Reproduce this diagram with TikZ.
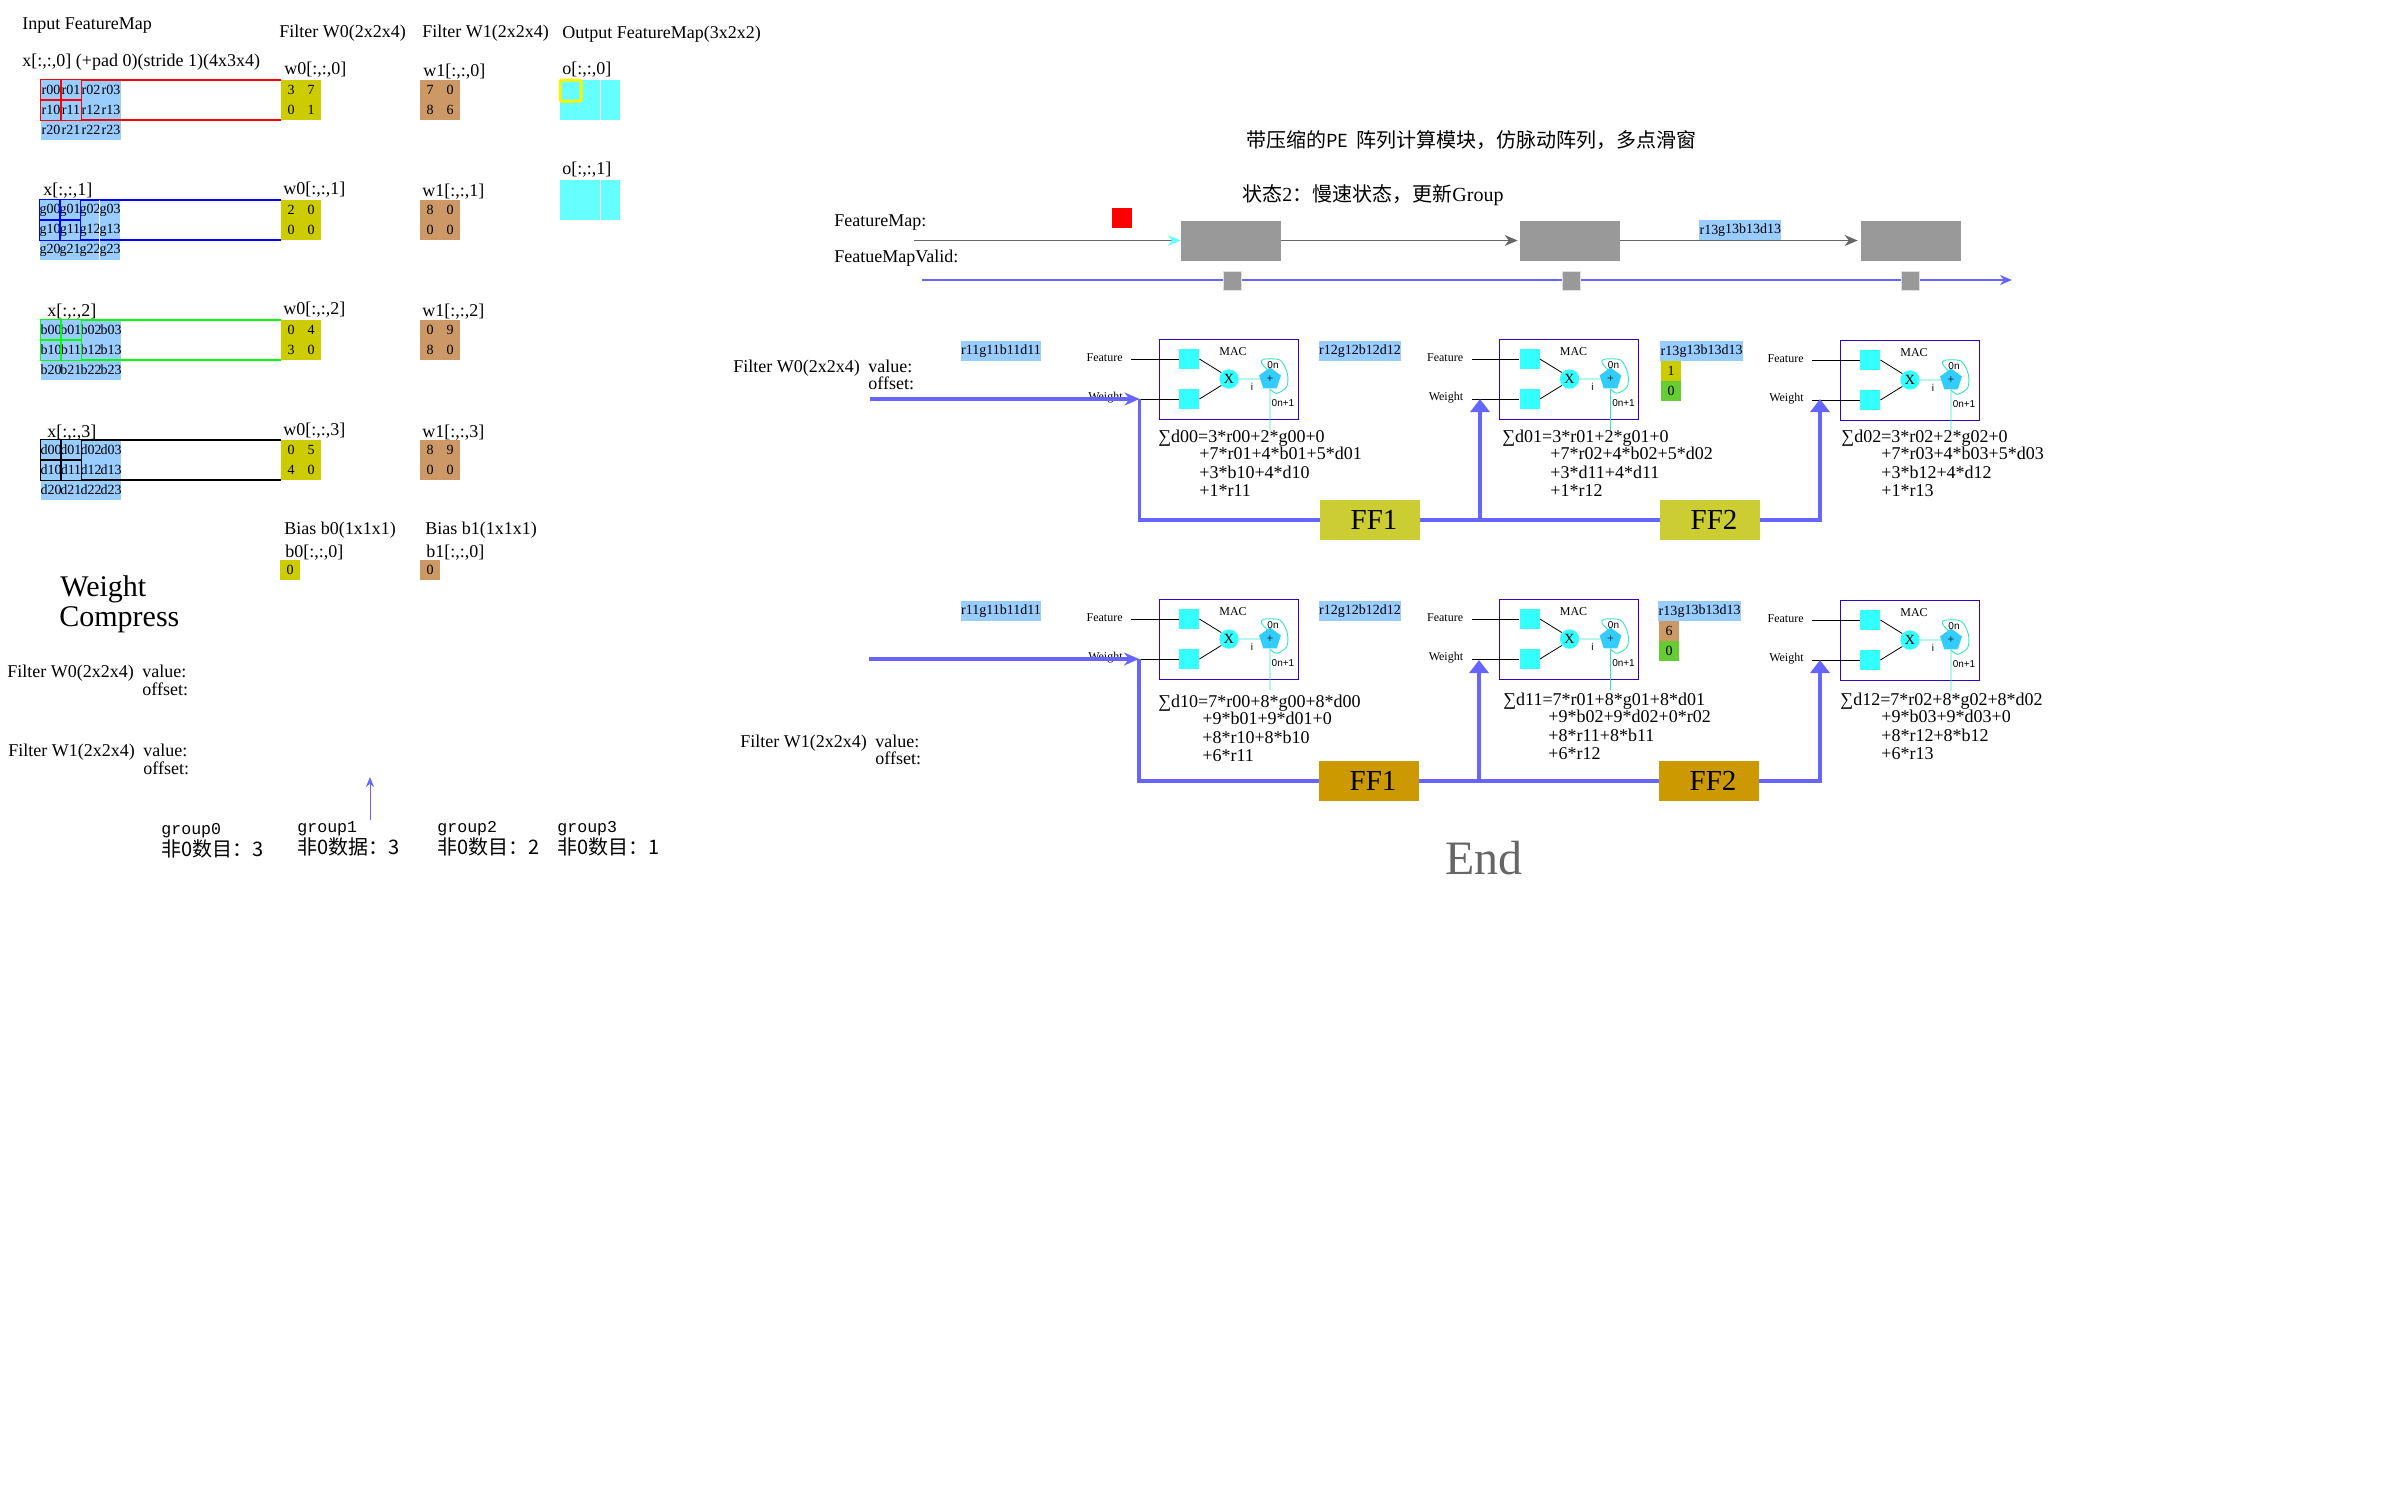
\documentclass[tikz,border=0pt]{standalone}
\usepackage{fontspec}
\setmainfont{Liberation Serif}
\setsansfont{Liberation Sans}
\setmonofont{Liberation Mono}
\newfontfamily\cjk{Noto Sans CJK SC}
\usetikzlibrary{shapes.geometric, arrows.meta, positioning}
\definecolor{cellblue}{HTML}{99CCFF}
\definecolor{filtyellow}{HTML}{CCCC00}
\definecolor{filtbrown}{HTML}{CC9966}
\definecolor{outcyan}{HTML}{66FFFF}
\definecolor{maccyan}{HTML}{33FFFF}
\definecolor{penta}{HTML}{33CCFF}
\definecolor{loopteal}{HTML}{33E6C0}
\definecolor{linkblue}{HTML}{6666FF}
\definecolor{macblue}{HTML}{3300CC}
\definecolor{boxgray}{HTML}{999999}
\definecolor{linegray}{HTML}{666666}
\definecolor{ffyellow}{HTML}{CCCC33}
\definecolor{ffbrown}{HTML}{CC9900}
\definecolor{zerogreen}{HTML}{66CC33}
\newcommand{\cellbox}[1]{\makebox[10pt]{#1}}
\tikzset{
	lab/.style={anchor=west, inner sep=0pt, yshift=-1pt, font=\fontsize{9}{9.1}\selectfont, align=left},
	biglab/.style={anchor=west, inner sep=0pt, yshift=-1.5pt, font=\fontsize{15}{15}\selectfont},
	cjklab/.style={anchor=west, inner sep=0pt, font=\fontsize{10}{10}\selectfont},
	monolab/.style={anchor=west, inner sep=0pt, font=\fontsize{8.3}{8.3}\ttfamily},
	cell/.style={rectangle, inner sep=0pt, minimum width=10pt, minimum height=10pt, font=\fontsize{7}{7}\selectfont},
	fblue/.style={cell, fill=cellblue},
	fyel/.style={cell, fill=filtyellow},
	fbrown/.style={cell, fill=filtbrown},
	fgreen/.style={cell, fill=zerogreen},
	fcyan/.style={cell, fill=outcyan, minimum height=20pt},
	graybox/.style={rectangle, fill=boxgray, minimum width=50pt, minimum height=20pt, inner sep=0pt},
	tick/.style={rectangle, fill=boxgray, draw=black!12, line width=.4pt, minimum width=9pt, minimum height=9.5pt, inner sep=0pt},
	ffbox/.style={rectangle, minimum width=50pt, minimum height=20pt, inner sep=0pt, font=\fontsize{14.5}{14.5}\selectfont},
	macbox/.style={rectangle, draw=macblue, line width=.45pt, minimum width=69.5pt, minimum height=40pt, inner sep=0pt},
	macsq/.style={rectangle, fill=maccyan, minimum width=10pt, minimum height=10pt, inner sep=0pt},
	macmul/.style={circle, fill=maccyan, minimum size=9.7pt, inner sep=0pt, font=\fontsize{7}{7}\selectfont},
	macadd/.style={regular polygon, regular polygon sides=5, fill=penta, minimum size=11.5pt, inner sep=0pt, font=\fontsize{6}{6}\selectfont},
	mactxt/.style={inner sep=0pt, font=\fontsize{6}{6}\selectfont},
	macsans/.style={inner sep=0pt, font=\fontsize{5}{5}\sffamily},
	macline/.style={line width=.4pt, black},
	loopline/.style={line width=.45pt, loopteal},
	railline/.style={line width=1pt},
	gridline/.style={line width=.6pt},
	grayarrow/.style={line width=.6pt, linegray, -{Stealth[length=6.5pt,width=5.5pt]}},
	validarrow/.style={line width=.6pt, linkblue, -{Stealth[length=6pt,width=5pt]}},
	thickline/.style={line width=1.6pt, linkblue},
	thickarrow/.style={thickline, -{Stealth[length=7.5pt,width=6.5pt]}},
	uparrow/.style={thickline, -{Triangle[length=6.5pt,width=9.5pt]}},
	thinarrow/.style={line width=.4pt, linkblue, -{Stealth[length=5pt,width=4pt]}}
}

\begin{document}
\begin{tikzpicture}[x=0.5pt, y=-0.5pt]
	\useasboundingbox (0,0) rectangle (2400,1500);
	
	% Headings
	\node (inhead) [lab] at (22,24) {Input FeatureMap};
	\node (xhead) [lab] at (22,60) {x[:,:,0] (+pad 0)(stride 1)(4x3x4)};
	\node (w0head) [lab] at (279,31) {Filter W0(2x2x4)};
	\node (w1head) [lab] at (422,31) {Filter W1(2x2x4)};
	\node (ohead) [lab] at (562,32) {Output FeatureMap(3x2x2)};
	
	\node (xlab1) [lab] at (43,189) {x[:,:,1]};
	\node (xlab2) [lab] at (47,310) {x[:,:,2]};
	\node (xlab3) [lab] at (47,431) {x[:,:,3]};
	\node (w0lab0) [lab] at (284,68) {w0[:,:,0]};
	\node (w0lab1) [lab] at (283,188) {w0[:,:,1]};
	\node (w0lab2) [lab] at (283,308) {w0[:,:,2]};
	\node (w0lab3) [lab] at (283,429) {w0[:,:,3]};
	\node (w1lab0) [lab] at (423,70) {w1[:,:,0]};
	\node (w1lab1) [lab] at (422,190) {w1[:,:,1]};
	\node (w1lab2) [lab] at (422,310) {w1[:,:,2]};
	\node (w1lab3) [lab] at (422,431) {w1[:,:,3]};
	\node (olab0) [lab] at (562,68) {o[:,:,0]};
	\node (olab1) [lab] at (562,168) {o[:,:,1]};
	
	% Filters
	\foreach \k/\fy/\va/\vb/\vc/\vd/\ve/\vf/\vg/\vh in {0/80/3/7/0/1/7/0/8/6, 1/200/2/0/0/0/8/0/0/0, 2/320/0/4/3/0/0/9/8/0, 3/440/0/5/4/0/8/9/0/0} {
		\node (wa\k00) [fyel] at (291,\fy+10) {\va};
		\node (wa\k01) [fyel] at (311,\fy+10) {\vb};
		\node (wa\k10) [fyel] at (291,\fy+30) {\vc};
		\node (wa\k11) [fyel] at (311,\fy+30) {\vd};
		\node (wb\k00) [fbrown] at (430,\fy+10) {\ve};
		\node (wb\k01) [fbrown] at (450,\fy+10) {\vf};
		\node (wb\k10) [fbrown] at (430,\fy+30) {\vg};
		\node (wb\k11) [fbrown] at (450,\fy+30) {\vh};
	}
	
	% Feature map grids
	\foreach \c/\n/\gx/\gy/\col in {r/0/41/80/red, g/1/40/200/blue, b/2/41/320/green, d/3/41/440/black} {
		\foreach \i in {0,1,2} {
			\foreach \j in {0,1,2,3} {
				\node (\c\i\j) [fblue] at (\gx+\j*20+10,\gy+\i*20+10) {\cellbox{\c\i\j}};
			}
		}
		\foreach \k in {00,01,10,11} {
			\draw [gridline, \col] (\c\k.north west) rectangle (\c\k.south east);
		}
		\draw [railline, \col] (\c02.north west) -- (wa\n00.north west);
		\draw [railline, \col] (\c12.south west) -- (wa\n10.south west);
	}
	\draw [white, line width=.4pt] (g03.north west) -- (g23.south west);
	
	% Output maps
	\node (o00) [fcyan, minimum width=20pt] at (580,100) {};
	\node (o01) [fcyan, minimum width=9.5pt] at (610.5,100) {};
	\node (o10) [fcyan, minimum width=20pt] at (580,200) {};
	\node (o11) [fcyan, minimum width=9.5pt] at (610.5,200) {};
	\node (oslide) [rectangle, draw=yellow, line width=1.5pt, rounded corners=.6pt, minimum width=10.5pt, minimum height=10.5pt, inner sep=0pt] at (570.5,90.5) {};
	
	% Bias
	\node (bias0) [lab] at (284,528) {Bias b0(1x1x1)};
	\node (bias1) [lab] at (425,528) {Bias b1(1x1x1)};
	\node (blab0) [lab] at (285,551) {b0[:,:,0]};
	\node (blab1) [lab] at (426,551) {b1[:,:,0]};
	\node (bcell0) [fyel] at (290,570) {0};
	\node (bcell1) [fbrown] at (430,570) {0};
	
	% Compress
	\node (wgt) [biglab] at (60,586) {Weight};
	\node (cmp) [biglab] at (59,617) {Compress};
	\node (cw0) [lab] at (7,671) {Filter W0(2x2x4)};
	\node (cw0v) [lab] at (142,669) {value:};
	\node (cw0o) [lab] at (142,687) {offset:};
	\node (cw1) [lab] at (8,750) {Filter W1(2x2x4)};
	\node (cw1v) [lab] at (143,748) {value:};
	\node (cw1o) [lab] at (143,766) {offset:};
	
	\node (grp0) [monolab] at (161,831) {group0};
	\node (cnt0) [cjklab] at (161,849) {\cjk 非0数目：3};
	\node (grp1) [monolab] at (297,829) {group1};
	\node (cnt1) [cjklab] at (297,847) {\cjk 非0数据：3};
	\node (grp2) [monolab] at (437,829) {group2};
	\node (cnt2) [cjklab] at (437,847) {\cjk 非0数目：2};
	\node (grp3) [monolab] at (557,829) {group3};
	\node (cnt3) [cjklab] at (557,847) {\cjk 非0数目：1};
	\coordinate (grpfrom) at (370,820);
	\coordinate (grpto) at (370,777);
	\draw [thinarrow] (grpfrom) -- (grpto);
	
	% Titles
	\node (title) [cjklab] at (1246,140) {\cjk 带压缩的{\fontsize{9}{9}\selectfont PE}\hspace{4pt}阵列计算模块，仿脉动阵列，多点滑窗};
	\node (state) [cjklab] at (1242,195) {{\cjk 状态}2{\cjk ：慢速状态，更新}Group};
	\node (fmlab) [lab] at (834,221) {FeatureMap:};
	\node (fvlab) [lab] at (834,256) {FeatueMapValid:};
	\node (redmark) [rectangle, fill=red, minimum width=10pt, minimum height=10pt, inner sep=0pt] at (1122,218) {};
	
	% Timing row
	\coordinate (fmin) at (914,240.5);
	\coordinate (validin) at (922,280);
	\coordinate (validout) at (2012,280);
	\draw [validarrow] (validin) -- (validout);
	\node (box1) [graybox] at (1231,240.5) {};
	\node (box2) [graybox] at (1570,240.5) {};
	\node (box3) [graybox] at (1911,240.5) {};
	\node (tick1) [tick] at (1232,280.5) {};
	\node (tick2) [tick] at (1571.5,281) {};
	\node (tick3) [tick] at (1910,280.5) {};
	\node (mv0) [fblue] at (1709,230) {\cellbox{r13}};
	\node (mv1) [fblue, minimum width=29.5pt] at (1749.5,230) {g13b13d13};
	\draw [grayarrow, -{Stealth[length=6.5pt,width=5.5pt,color=outcyan]}] (fmin) -- (box1.west);
	\draw [grayarrow, shorten >=1pt] (box1.east) -- (box2.west);
	\draw [grayarrow, shorten >=1.5pt] (box2.east) -- (box3.west);
	
	% MAC modules
	\foreach \m/\mx/\my in {a0/1159/339, a1/1499.5/339, a2/1840/340, b0/1159/599, b1/1499.5/599, b2/1840/600} {
		\begin{scope}[shift={(\mx,\my)}]
			\node (\m-box) [macbox] at (69.5,40) {};
			\node (\m-sqf) [macsq] at (30,20) {};
			\node (\m-sqw) [macsq] at (30,60) {};
			\node (\m-mul) [macmul] at (70,40) {X};
			\node (\m-add) [macadd] at (111,40) {+};
			\node (\m-mac) [mactxt] at (74,13) {MAC};
			\node (\m-fl) [mactxt, anchor=east] at (-36,18.5) {Feature};
			\node (\m-wl) [mactxt, anchor=east] at (-36,59) {Weight};
			\node (\m-i) [macsans] at (93,48) {i};
			\node (\m-on) [macsans] at (114,26) {0n};
			\node (\m-on1) [macsans] at (124,64) {0n+1};
			\coordinate (\m-ff) at (-28,20);
			\coordinate (\m-wf) at (-28,60);
			\coordinate (\m-out) at (111,91);
			\draw [macline] (\m-ff) -- (\m-sqf.west);
			\draw [macline] (\m-wf) -- (\m-sqw.west);
			\draw [macline] (\m-sqf.east) -- (\m-mul.140);
			\draw [macline] (\m-sqw.east) -- (\m-mul.220);
			\draw [loopline] (\m-mul.east) -- (\m-add.west);
			\draw [loopline] (\m-add) -- (\m-out);
			\draw [loopline] plot [smooth] coordinates {(109.3,31.7) (102.7,24.3) (104.3,20.3) (121,21) (128.3,34.3) (127.7,47.7) (117.7,54.3) (111,50)};
		\end{scope}
	}
	
	% Streams
	\node (s11a) [fblue, minimum width=40pt] at (1001,351) {r11g11b11d11};
	\node (s12a) [fblue, minimum width=40pt] at (1360,351) {r12g12b12d12};
	\node (s13a) [fblue] at (1670,351) {\cellbox{r13}};
	\node (s14a) [fblue, minimum width=29.5pt] at (1711,351) {g13b13d13};
	\node (sv1a) [fyel] at (1671,371) {1};
	\node (sz1a) [fgreen] at (1671,391) {0};
	\node (s11b) [fblue, minimum width=40pt] at (1001,611) {r11g11b11d11};
	\node (s12b) [fblue, minimum width=40pt] at (1360,611) {r12g12b12d12};
	\node (s13b) [fblue] at (1668,611) {\cellbox{r13}};
	\node (s14b) [fblue, minimum width=29.5pt] at (1709,611) {g13b13d13};
	\node (sv1b) [fbrown] at (1669,631) {6};
	\node (sz1b) [fgreen] at (1669,651) {0};
	
	% Equations
	\node (eqa0) [lab] at (1158,436) {∑d00=3*r00+2*g00+0};
	\node (eqa0r) [lab, anchor=north west] at (1199,445) {+7*r01+4*b01+5*d01\\+3*b10+4*d10\\+1*r11};
	\node (eqa1) [lab] at (1502,436) {∑d01=3*r01+2*g01+0};
	\node (eqa1r) [lab, anchor=north west] at (1550,445) {+7*r02+4*b02+5*d02\\+3*d11+4*d11\\+1*r12};
	\node (eqa2) [lab] at (1841,436) {∑d02=3*r02+2*g02+0};
	\node (eqa2r) [lab, anchor=north west] at (1881,445) {+7*r03+4*b03+5*d03\\+3*b12+4*d12\\+1*r13};
	\node (eqb0) [lab] at (1158,701) {∑d10=7*r00+8*g00+8*d00};
	\node (eqb0r) [lab, anchor=north west] at (1202,710) {+9*b01+9*d01+0\\+8*r10+8*b10\\+6*r11};
	\node (eqb1) [lab] at (1503,699) {∑d11=7*r01+8*g01+8*d01};
	\node (eqb1r) [lab, anchor=north west] at (1548,708) {+9*b02+9*d02+0*r02\\+8*r11+8*b11\\+6*r12};
	\node (eqb2) [lab] at (1840,699) {∑d12=7*r02+8*g02+8*d02};
	\node (eqb2r) [lab, anchor=north west] at (1881,708) {+9*b03+9*d03+0\\+8*r12+8*b12\\+6*r13};
	
	% Filter rows
	\node (rw0) [lab] at (733,366) {Filter W0(2x2x4)};
	\node (rw0v) [lab] at (868,364) {value:};
	\node (rw0o) [lab] at (868,381) {offset:};
	\node (rw1) [lab] at (740,741) {Filter W1(2x2x4)};
	\node (rw1v) [lab] at (875,739) {value:};
	\node (rw1o) [lab] at (875,756) {offset:};
	
	\node (ff1a) [ffbox, fill=ffyellow] at (1370,520) {\hspace{4pt}FF1};
	\node (ff2a) [ffbox, fill=ffyellow] at (1710,520) {\hspace{4pt}FF2};
	\node (ff1b) [ffbox, fill=ffbrown] at (1369,781) {\hspace{4pt}FF1};
	\node (ff2b) [ffbox, fill=ffbrown] at (1709,781) {\hspace{4pt}FF2};
	\node (endlab) [anchor=west, inner sep=0pt, text=linegray, font=\fontsize{24}{24}\selectfont] at (1445,858) {End};
	
	% Arrows
	\coordinate (inw0) at (870,399);
	\coordinate (tipw0) at (1139.5,399);
	\coordinate (tipa1) at (1480,399);
	\coordinate (tipa2) at (1820,399);
	\coordinate (inw1) at (869,659);
	\coordinate (tipw1) at (1139,659);
	\coordinate (tipb1) at (1479,660);
	\coordinate (tipb2) at (1820,660);
	\draw [thickarrow] (inw0) -- (tipw0);
	\draw [thickline] (tipw0) |- (ff1a.west);
	\draw [thickline] (ff1a.east) -- (ff2a.west);
	\draw [uparrow] (ff1a.east -| tipa1) -- (tipa1);
	\draw [uparrow] (ff2a.east) -| (tipa2);
	\draw [thickarrow] (inw1) -- (tipw1);
	\draw [thickline] (tipw1) |- (ff1b.west);
	\draw [thickline] (ff1b.east) -- (ff2b.west);
	\draw [uparrow] (ff1b.east -| tipb1) -- (tipb1);
	\draw [uparrow] (ff2b.east) -| (tipb2);
	
\end{tikzpicture}
\end{document}
